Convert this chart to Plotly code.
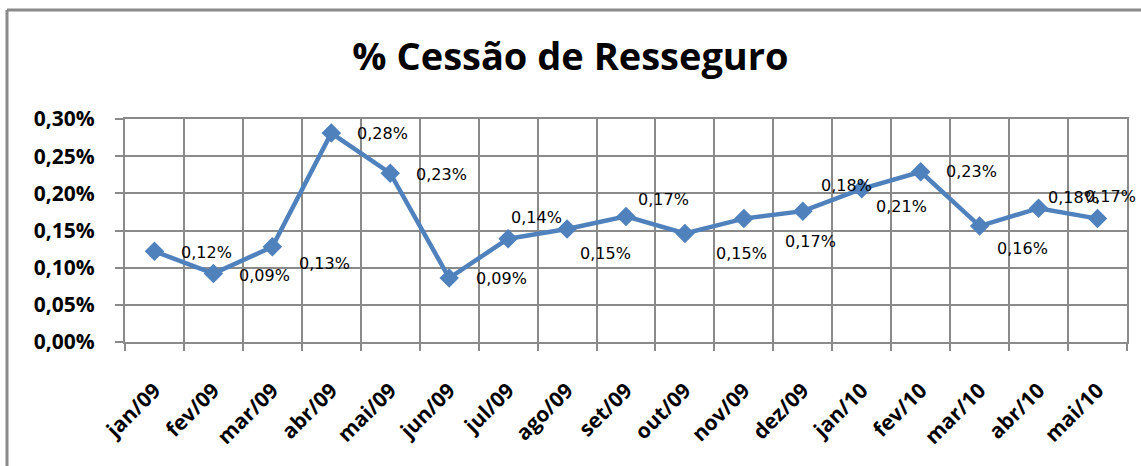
import plotly.graph_objects as go

months = ["jan/09", "fev/09", "mar/09", "abr/09", "mai/09", "jun/09", "jul/09", "ago/09",
          "set/09", "out/09", "nov/09", "dez/09", "jan/10", "fev/10", "mar/10", "abr/10", "mai/10"]
cessao_pct = [0.122, 0.092, 0.128, 0.281, 0.227, 0.086, 0.139, 0.152,
              0.169, 0.146, 0.166, 0.176, 0.206, 0.229, 0.156, 0.180, 0.166]
y_ticks = [0.00, 0.05, 0.10, 0.15, 0.20, 0.25, 0.30]


def pt(v):
    return f"{v:.2f}".replace(".", ",") + "%"


# label offsets (pixels, right / down) – styling only
label_dx = [52, 51, 52, 51, 51, 52, 28, 38, 37, 57, 67, 44, 40, 51, 43, 35, 13]
label_dy = [1, 2, 17, 0, 1, 0, -21, 24, -17, 20, 23, -26, 18, 0, 22, -11, -22]

blue = "#4F81BD"
grid = "#8a8a8a"
tick_font = dict(family="Open Sans", size=21, color="black", weight="bold")

fig = go.Figure()
fig.add_trace(go.Scatter(
    x=months, y=cessao_pct, mode="lines+markers",
    line=dict(color=blue, width=4.5),
    marker=dict(symbol="diamond", size=15, color=blue),
    showlegend=False, hoverinfo="skip",
))

for m, v, dx, dy in zip(months, cessao_pct, label_dx, label_dy):
    fig.add_annotation(
        x=m, y=v, text=pt(v),
        showarrow=False, xshift=dx, yshift=-dy,
        font=dict(family="DejaVu Sans", size=16, color="black"),
    )

L, R, T, B = 125, 14, 119, 124
W, H = 1141, 466
pw, ph = W - L - R, H - T - B
# outer frame (left and top edges visible)
fx0 = (7 - L) / pw
fy1 = (H - B - 10) / ph
fig.add_shape(type="line", xref="paper", yref="paper", x0=fx0, x1=(W - L + 5) / pw,
              y0=fy1, y1=fy1, line=dict(color=grid, width=3))
fig.add_shape(type="line", xref="paper", yref="paper", x0=fx0, x1=fx0,
              y0=fy1, y1=-(B + 5) / ph, line=dict(color=grid, width=3))

fig.update_layout(
    width=W, height=H,
    margin=dict(l=L, r=R, t=T, b=B),
    paper_bgcolor="white", plot_bgcolor="white",
    title=dict(text="% Cessão de Resseguro", x=0.5, xanchor="center",
               y=(H - 57) / H, yanchor="middle",
               font=dict(family="Open Sans", size=38, color="black", weight="bold")),
    xaxis=dict(type="category", range=[-0.5, len(months) - 0.5], tickson="boundaries",
               showgrid=True, gridcolor=grid, gridwidth=1.5,
               showline=True, linecolor=grid, linewidth=2, mirror=True,
               ticks="outside", ticklen=7, tickcolor=grid, tickwidth=1.5,
               tickangle=-45, tickfont=tick_font, ticklabelstandoff=26),
    yaxis=dict(range=[0, 0.30], tickvals=y_ticks, ticktext=[pt(t) for t in y_ticks],
               showgrid=True, gridcolor=grid, gridwidth=2,
               showline=True, linecolor=grid, linewidth=2, mirror=True,
               ticks="outside", ticklen=8, tickcolor=grid, tickwidth=2,
               tickfont=tick_font, ticklabelstandoff=16, zeroline=False),
)

fig.write_html("out.html", config={"displayModeBar": False},
               post_script="document.body.style.margin='0';")
